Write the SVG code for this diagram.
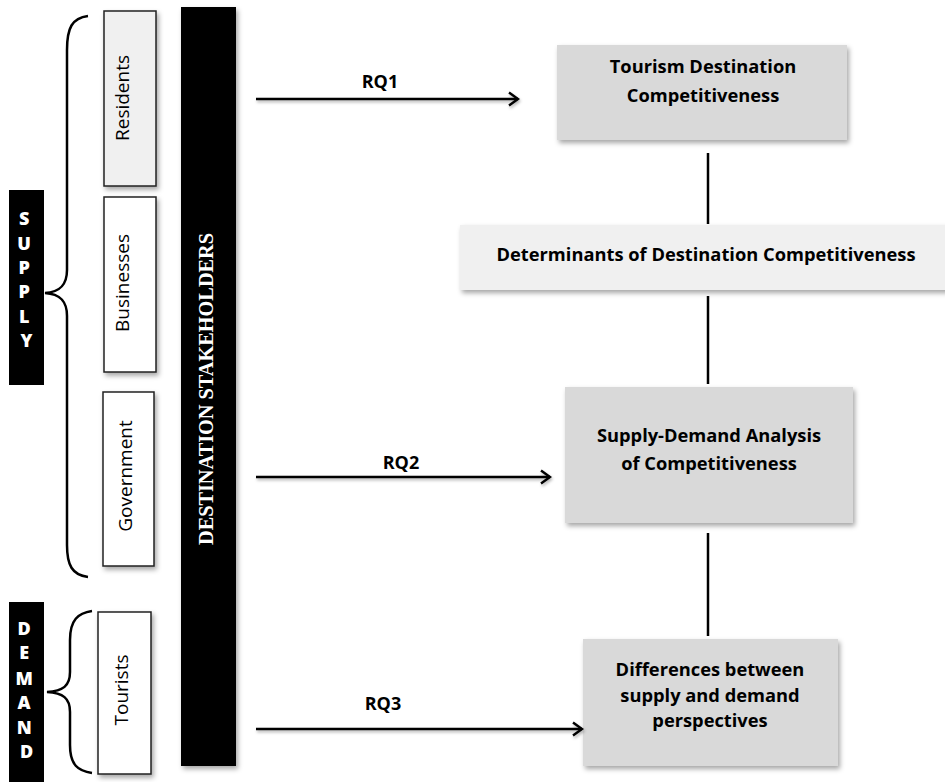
<svg xmlns="http://www.w3.org/2000/svg" width="945" height="782" viewBox="0 0 945 782">
  <defs>
    <filter id="shadow" x="-10%" y="-10%" width="125%" height="130%">
      <feDropShadow dx="2" dy="3" stdDeviation="2.5" flood-color="#000" flood-opacity="0.35"/>
    </filter>
    <filter id="lineShadow" x="-5%" y="-200%" width="110%" height="500%">
      <feDropShadow dx="1" dy="2" stdDeviation="1.5" flood-color="#000" flood-opacity="0.3"/>
    </filter>
    <marker id="chev" viewBox="0 0 14 16" refX="12" refY="8" markerWidth="14" markerHeight="16" markerUnits="userSpaceOnUse" orient="auto">
      <path d="M3 1.5 L12 8 L3 14.5" fill="none" stroke="#000" stroke-width="2.4"/>
    </marker>
  </defs>
  <style>
    .stake { stroke: #222; stroke-width: 1.5; filter: url(#shadow); }
    .stake-text { font-family: "Open Sans", "Liberation Sans", sans-serif; font-size: 19px; fill: #000; text-anchor: middle; }
    .box { fill: #d9d9d9; filter: url(#shadow); }
    .box-light { fill: #f0f0f0; filter: url(#shadow); }
    .box-text { font-family: "Open Sans", "Liberation Sans", sans-serif; font-weight: bold; font-size: 18.3px; fill: #000; text-anchor: middle; }
    .rq { font-family: "Open Sans", "Liberation Sans", sans-serif; font-weight: bold; font-size: 18px; fill: #000; text-anchor: middle; }
    .tag { fill: #000; }
    .tag-text { font-family: "Open Sans", "Liberation Sans", sans-serif; font-weight: 800; font-size: 18px; fill: #fff; text-anchor: middle; }
    .brace { fill: none; stroke: #000; stroke-width: 2.5; }
    .conn { fill: none; stroke: #000; stroke-width: 2.5; }
  </style>

  <!-- Supply / demand tags -->
  <g id="supply">
    <rect class="tag" x="9" y="190" width="35" height="195"/>
    <text class="tag-text">
      <tspan x="26.5" y="225">S</tspan>
      <tspan x="26.5" y="250">U</tspan>
      <tspan x="26.5" y="274">P</tspan>
      <tspan x="26.5" y="298">P</tspan>
      <tspan x="26.5" y="323">L</tspan>
      <tspan x="26.5" y="347">Y</tspan>
    </text>
    <path class="brace" d="M88 16 C72 18 67 28 67 50 L67 270 C67 285 60 292 45 293 C60 294 67 301 67 316 L67 545 C67 565 72 575 88 577"/>
  </g>
  <g id="demand">
    <rect class="tag" x="9" y="602" width="35" height="180"/>
    <text class="tag-text">
      <tspan x="26.5" y="635">D</tspan>
      <tspan x="26.5" y="659">E</tspan>
      <tspan x="26.5" y="685">M</tspan>
      <tspan x="26.5" y="709">A</tspan>
      <tspan x="26.5" y="734">N</tspan>
      <tspan x="26.5" y="758">D</tspan>
    </text>
    <path class="brace" d="M92 611 C78 613 70 620 70 640 L70 672 C70 686 63 691 47 692 C63 693 70 698 70 712 L70 745 C70 765 78 771 92 773"/>
  </g>

  <!-- Stakeholder groups -->
  <g id="residents">
    <rect class="stake" x="104" y="11" width="52" height="175" fill="#f0f0f0"/>
    <text class="stake-text" transform="translate(129 98) rotate(-90)">Residents</text>
  </g>
  <g id="businesses">
    <rect class="stake" x="104" y="197" width="52" height="175" fill="#fff"/>
    <text class="stake-text" transform="translate(129 283) rotate(-90)">Businesses</text>
  </g>
  <g id="government">
    <rect class="stake" x="103" y="392" width="51" height="174" fill="#fff"/>
    <text class="stake-text" transform="translate(132 476) rotate(-90)">Government</text>
  </g>
  <g id="tourists">
    <rect class="stake" x="98" y="612" width="53" height="162" fill="#fff"/>
    <text class="stake-text" transform="translate(128 690) rotate(-90)">Tourists</text>
  </g>

  <!-- Destination stakeholders bar -->
  <g id="stakeholders">
    <rect x="181" y="7" width="55" height="759" fill="#000" filter="url(#shadow)"/>
    <text transform="translate(213 389) rotate(-90)" font-family="'Liberation Serif', serif" font-weight="bold" font-size="21" fill="#fff" text-anchor="middle" textLength="312" lengthAdjust="spacingAndGlyphs">DESTINATION STAKEHOLDERS</text>
  </g>

  <!-- Outcome boxes -->
  <g id="tdc">
    <rect class="box" x="557" y="45" width="290" height="95"/>
    <text class="box-text"><tspan x="703" y="73">Tourism Destination</tspan><tspan x="703" y="102">Competitiveness</tspan></text>
  </g>
  <g id="determinants">
    <rect class="box-light" x="460" y="225" width="490" height="65"/>
    <text class="box-text" x="706" y="261">Determinants of Destination Competitiveness</text>
  </g>
  <g id="sda">
    <rect class="box" x="565" y="387" width="288" height="136"/>
    <text class="box-text"><tspan x="709" y="442">Supply-Demand Analysis</tspan><tspan x="709" y="470">of Competitiveness</tspan></text>
  </g>
  <g id="differences">
    <rect class="box" x="583" y="639" width="255" height="127"/>
    <text class="box-text"><tspan x="710" y="676">Differences between</tspan><tspan x="710" y="702">supply and demand</tspan><tspan x="710" y="727">perspectives</tspan></text>
  </g>

  <!-- Connectors -->
  <g id="connectors">
    <g filter="url(#lineShadow)">
      <line class="conn" x1="256" y1="99" x2="518" y2="99" marker-end="url(#chev)"/>
      <line class="conn" x1="256" y1="477" x2="550" y2="477" marker-end="url(#chev)"/>
      <line class="conn" x1="256" y1="729" x2="582" y2="729" marker-end="url(#chev)"/>
    </g>
    <line class="conn" x1="708" y1="153" x2="708" y2="224"/>
    <line class="conn" x1="708" y1="296" x2="708" y2="384"/>
    <line class="conn" x1="708" y1="533" x2="708" y2="636"/>
    <text class="rq" x="380" y="88">RQ1</text>
    <text class="rq" x="401" y="469">RQ2</text>
    <text class="rq" x="383" y="710">RQ3</text>
  </g>
</svg>
